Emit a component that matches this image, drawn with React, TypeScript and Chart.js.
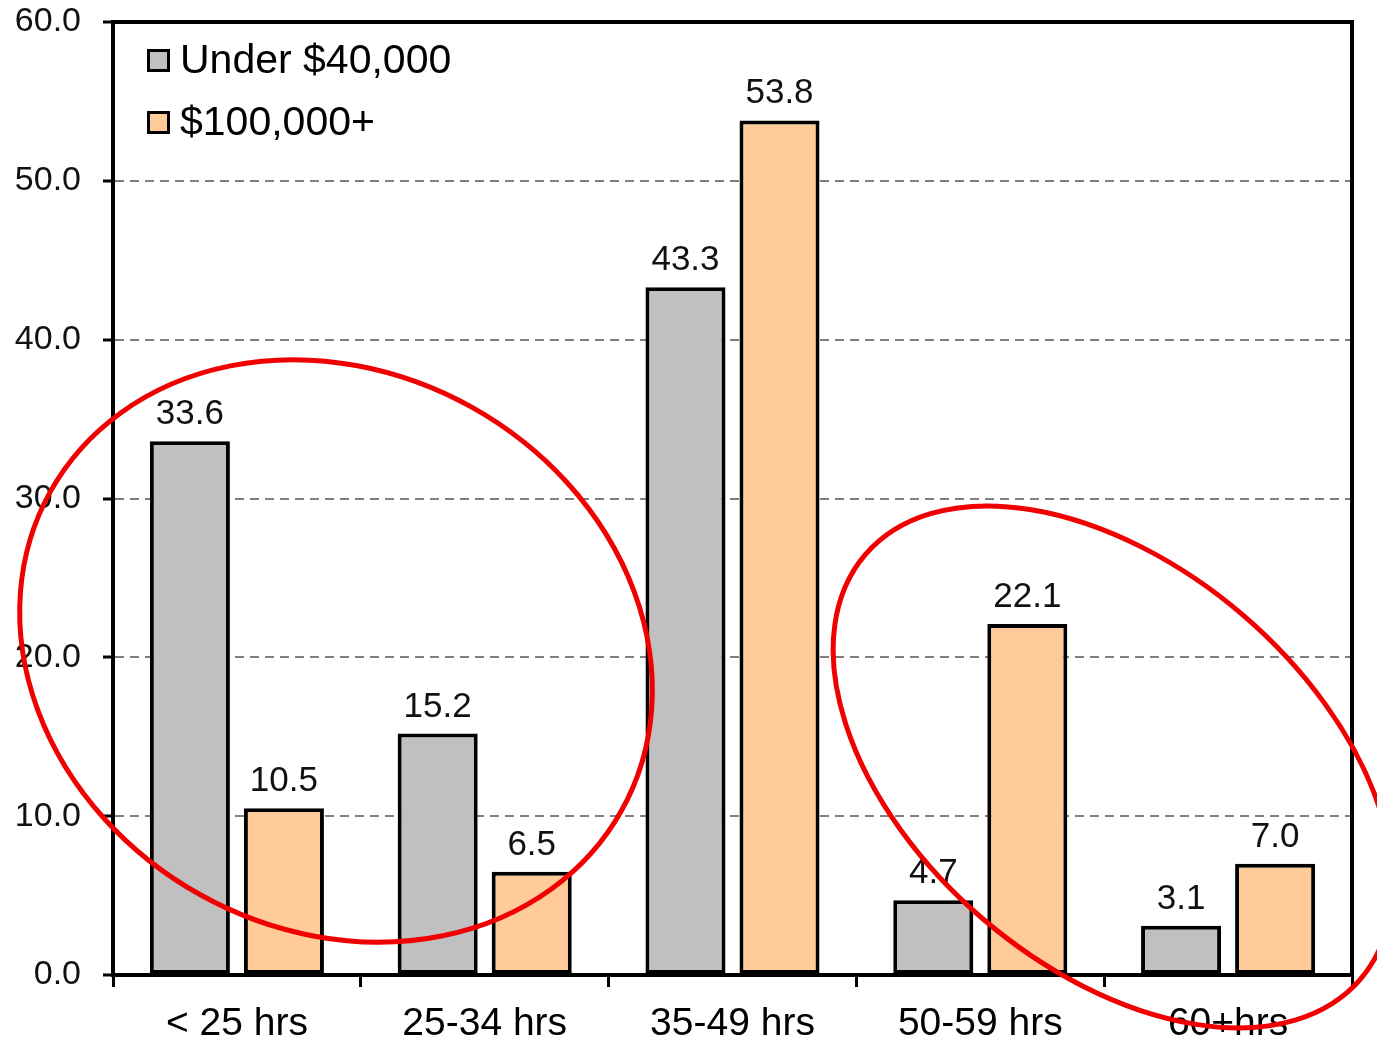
import React, { useEffect, useRef } from "react";
import { Chart, registerables } from "chart.js";

Chart.register(...registerables);

const categories = ["< 25 hrs", "25-34 hrs", "35-49 hrs", "50-59 hrs", "60+hrs"];
const seriesNames = ["Under $40,000", "$100,000+"];
const under40k = [33.6, 15.2, 43.3, 4.7, 3.1];
const over100k = [10.5, 6.5, 53.8, 22.1, 7.0];
const yMin = 0;
const yMax = 60;
const yStep = 10;

// red highlight ellipses: centre in data units (category index, value),
// radii in category widths, rotation in degrees
const highlightIndex = [0.4, 3.535];
const highlightValue = [20.4, 13.1];
const highlightRx = [1.32, 1.316];
const highlightRy = [1.126, 0.807];
const highlightAngle = [29.2, 40.6];

const FONT = "'Liberation Sans', Arial, Helvetica, sans-serif";
const GREY = "#c0c0c0";
const PEACH = "#ffcc99";

const framePlugin = {
  id: "frame",
  afterDatasetsDraw(chart: any) {
    const { ctx, chartArea } = chart;
    ctx.save();
    ctx.lineWidth = 4;
    ctx.strokeStyle = "#000";
    ctx.strokeRect(chartArea.left, chartArea.top, chartArea.right - chartArea.left, chartArea.bottom - chartArea.top);
    ctx.restore();
  },
};

const valueLabelPlugin = {
  id: "valueLabels",
  afterDraw(chart: any) {
    const { ctx } = chart;
    ctx.save();
    ctx.font = `35px ${FONT}`;
    ctx.fillStyle = "#111";
    ctx.textAlign = "center";
    ctx.textBaseline = "alphabetic";
    chart.data.datasets.forEach((ds: any, di: number) => {
      const meta = chart.getDatasetMeta(di);
      meta.data.forEach((el: any, i: number) => {
        const v = ds.data[i] as number;
        ctx.fillText(v.toFixed(1), el.x, el.y - 17);
      });
    });
    ctx.restore();
  },
};

const legendPlugin = {
  id: "insideLegend",
  afterDraw(chart: any) {
    const { ctx, chartArea } = chart;
    ctx.save();
    ctx.font = `41px ${FONT}`;
    ctx.textAlign = "left";
    ctx.textBaseline = "alphabetic";
    chart.data.datasets.forEach((ds: any, i: number) => {
      const bx = chartArea.left + 34;
      const by = chartArea.top + 27 + i * 62;
      const s = 23;
      ctx.fillStyle = ds.backgroundColor;
      ctx.fillRect(bx, by, s, s);
      ctx.lineWidth = 3;
      ctx.strokeStyle = "#000";
      ctx.strokeRect(bx + 1.5, by + 1.5, s - 3, s - 3);
      ctx.fillStyle = "#000";
      ctx.fillText(ds.label, bx + 33, by + 24);
    });
    ctx.restore();
  },
};

const highlightPlugin = {
  id: "highlights",
  afterDraw(chart: any) {
    const { ctx } = chart;
    const xs = chart.scales.x;
    const ys = chart.scales.y;
    const catW = xs.getPixelForValue(1) - xs.getPixelForValue(0);
    ctx.save();
    ctx.lineWidth = 5;
    ctx.strokeStyle = "#f00000";
    highlightIndex.forEach((ix, k) => {
      const cx = xs.getPixelForValue(ix);
      const cy = ys.getPixelForValue(highlightValue[k]);
      ctx.beginPath();
      ctx.ellipse(cx, cy, highlightRx[k] * catW, highlightRy[k] * catW, (highlightAngle[k] * Math.PI) / 180, 0, Math.PI * 2);
      ctx.stroke();
    });
    ctx.restore();
  },
};

export default function App() {
  const ref = useRef<HTMLCanvasElement | null>(null);

  useEffect(() => {
    if (!ref.current) return;
    const chart = new Chart(ref.current, {
      type: "bar",
      data: {
        labels: categories,
        datasets: [
          {
            label: seriesNames[0],
            data: under40k,
            backgroundColor: GREY,
            borderColor: "#000",
            borderWidth: 4,
            borderSkipped: false,
            barPercentage: 0.851,
            categoryPercentage: 0.759,
          },
          {
            label: seriesNames[1],
            data: over100k,
            backgroundColor: PEACH,
            borderColor: "#000",
            borderWidth: 4,
            borderSkipped: false,
            barPercentage: 0.851,
            categoryPercentage: 0.759,
          },
        ],
      },
      options: {
        responsive: false,
        animation: false,
        layout: { padding: { left: 0, top: 22, right: 25, bottom: 0 } },
        plugins: {
          legend: { display: false },
          tooltip: { enabled: false },
        },
        scales: {
          x: {
            grid: {
              drawOnChartArea: false,
              drawTicks: true,
              offset: true,
              tickLength: 12,
              tickColor: "#000",
              tickWidth: 3,
            },
            border: { display: true, color: "#000", width: 4 },
            ticks: {
              color: "#000",
              font: { family: FONT, size: 39 },
              padding: 14,
              maxRotation: 0,
              autoSkip: false,
            },
            afterFit(scale: any) {
              scale.height = 68;
            },
          },
          y: {
            min: yMin,
            max: yMax,
            grid: {
              color: "#808080",
              lineWidth: 2,
              drawTicks: true,
              tickLength: 10,
              tickColor: "#000",
              tickWidth: 3,
              tickBorderDash: [],
            },
            border: { display: true, color: "#000", width: 4, dash: [9, 6] },
            ticks: {
              stepSize: yStep,
              color: "#111",
              font: { family: FONT, size: 34 },
              padding: 22,
              callback: (v: any) => Number(v).toFixed(1),
            },
            afterFit(scale: any) {
              scale.width = 113;
              scale.paddingTop = 0;
              scale.paddingBottom = 0;
            },
          },
        },
      },
      plugins: [framePlugin, valueLabelPlugin, legendPlugin, highlightPlugin],
    });
    return () => chart.destroy();
  }, []);

  return (
    <div style={{ position: "absolute", left: 0, top: 0, width: 1377, height: 1043, background: "#fff" }}>
      <canvas ref={ref} width={1377} height={1043} style={{ display: "block" }} />
    </div>
  );
}
